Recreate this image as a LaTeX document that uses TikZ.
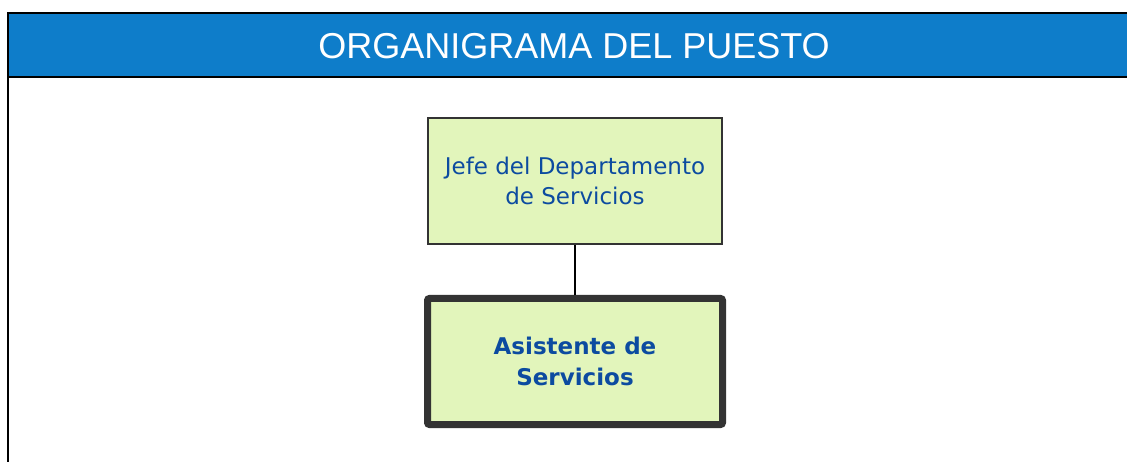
\documentclass[tikz,border=0pt]{standalone}
\usepackage{fontspec}
\setmainfont{DejaVu Sans}
\newfontfamily\headfont{Liberation Sans}
\usetikzlibrary{positioning}
\definecolor{barblue}{RGB}{14,125,202}
\definecolor{boxgreen}{RGB}{226,245,187}
\definecolor{txtblue}{RGB}{12,75,160}
\definecolor{edge}{RGB}{51,51,51}
\tikzset{
  puesto/.style={draw=edge,fill=boxgreen,text=txtblue,align=center,inner sep=0pt,font=\fontsize{23}{30}\selectfont},
}
\begin{document}
\begin{tikzpicture}[x=1pt,y=-1pt]
\useasboundingbox (0,0) rectangle (1127,462);
\fill[barblue] (8,13) rectangle (1127,77);
\draw[line width=2.5pt] (8,462) -- (8,13) -- (1127,13);
\draw[line width=2.5pt] (8,77) -- (1127,77);
\node[text=white,font=\headfont\fontsize{36}{40}\selectfont] (titulo) at (574,46) {ORGANIGRAMA DEL PUESTO};
\node[puesto,line width=1.8pt,minimum width=294pt,minimum height=126pt] (jefe) at (575,181) {Jefe del Departamento\\ de Servicios};
\node[puesto,line width=7pt,rounded corners=2pt,minimum width=295pt,minimum height=126pt,font=\fontsize{23}{31}\bfseries\selectfont] (asistente) at (575,361.5) {Asistente de\\Servicios};
\draw[line width=2pt] (jefe) -- (asistente);
\end{tikzpicture}
\end{document}
